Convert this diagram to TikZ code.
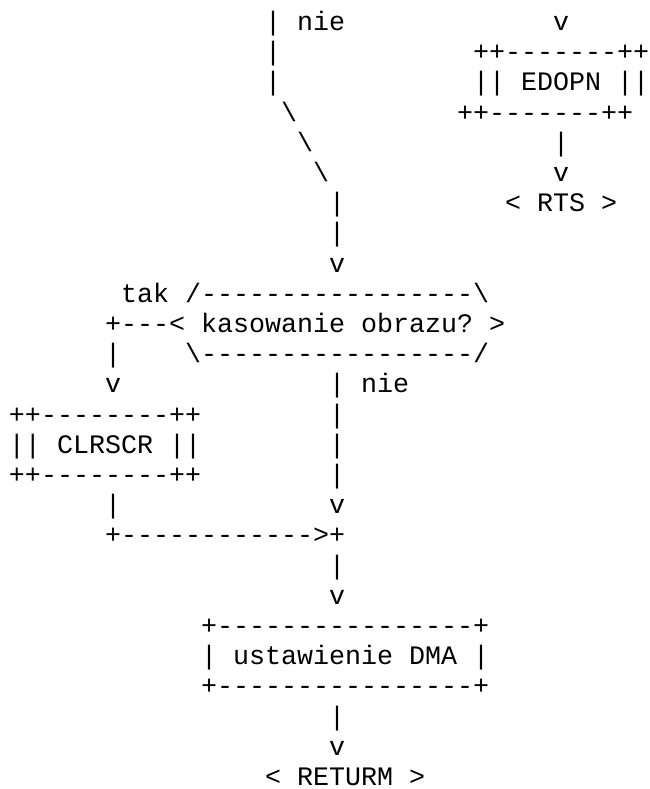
\documentclass[tikz,border=0pt]{standalone}
\usepackage{fontspec}
\setmonofont{Liberation Mono}
% one character cell: 16pt wide, 30.2pt line pitch
\newcommand\cell[4]{\node[asc] (#1) at ({(9+16*#2)*1pt},{-(30.5+30.2*#3)*1pt}) {#4};}
\newcommand\bs{\textbackslash}
\begin{document}
\begin{tikzpicture}[
  asc/.style={anchor=base west, inner sep=0pt, outer sep=0pt,
              font=\ttfamily\fontsize{26.667pt}{30.2pt}\selectfont, text=black}]
\useasboundingbox[fill=white] (0pt,0pt) rectangle (649pt,-789pt);
% upper branch and the EDOPN call
\cell{l0a}{16}{0}{| nie}
\cell{l0b}{34}{0}{v}
\cell{l1a}{16}{1}{|}
\cell{l1b}{29}{1}{++-------++}
\cell{l2a}{16}{2}{|}
\cell{l2b}{29}{2}{|| EDOPN ||}
\cell{l3a}{17}{3}{\bs}
\cell{l3b}{28}{3}{++-------++}
\cell{l4a}{18}{4}{\bs}
\cell{l4b}{34}{4}{|}
\cell{l5a}{19}{5}{\bs}
\cell{l5b}{34}{5}{v}
\cell{l6a}{20}{6}{|}
\cell{l6b}{31}{6}{< RTS >}
\cell{l7a}{20}{7}{|}
\cell{l8a}{20}{8}{v}
% decision
\cell{l9a}{7}{9}{tak /-----------------\bs}
\cell{l10a}{6}{10}{+---< kasowanie obrazu? >}
\cell{l11a}{6}{11}{|}
\cell{l11b}{11}{11}{\bs-----------------/}
\cell{l12a}{6}{12}{v}
\cell{l12b}{20}{12}{| nie}
% CLRSCR call
\cell{l13a}{0}{13}{++--------++}
\cell{l13b}{20}{13}{|}
\cell{l14a}{0}{14}{|| CLRSCR ||}
\cell{l14b}{20}{14}{|}
\cell{l15a}{0}{15}{++--------++}
\cell{l15b}{20}{15}{|}
\cell{l16a}{6}{16}{|}
\cell{l16b}{20}{16}{v}
\cell{l17a}{6}{17}{+------------>+}
\cell{l18a}{20}{18}{|}
\cell{l19a}{20}{19}{v}
% DMA setup and return
\cell{l20a}{12}{20}{+----------------+}
\cell{l21a}{12}{21}{| ustawienie DMA |}
\cell{l22a}{12}{22}{+----------------+}
\cell{l23a}{20}{23}{|}
\cell{l24a}{20}{24}{v}
\cell{l25a}{16}{25}{< RETURM >}
\end{tikzpicture}
\end{document}
